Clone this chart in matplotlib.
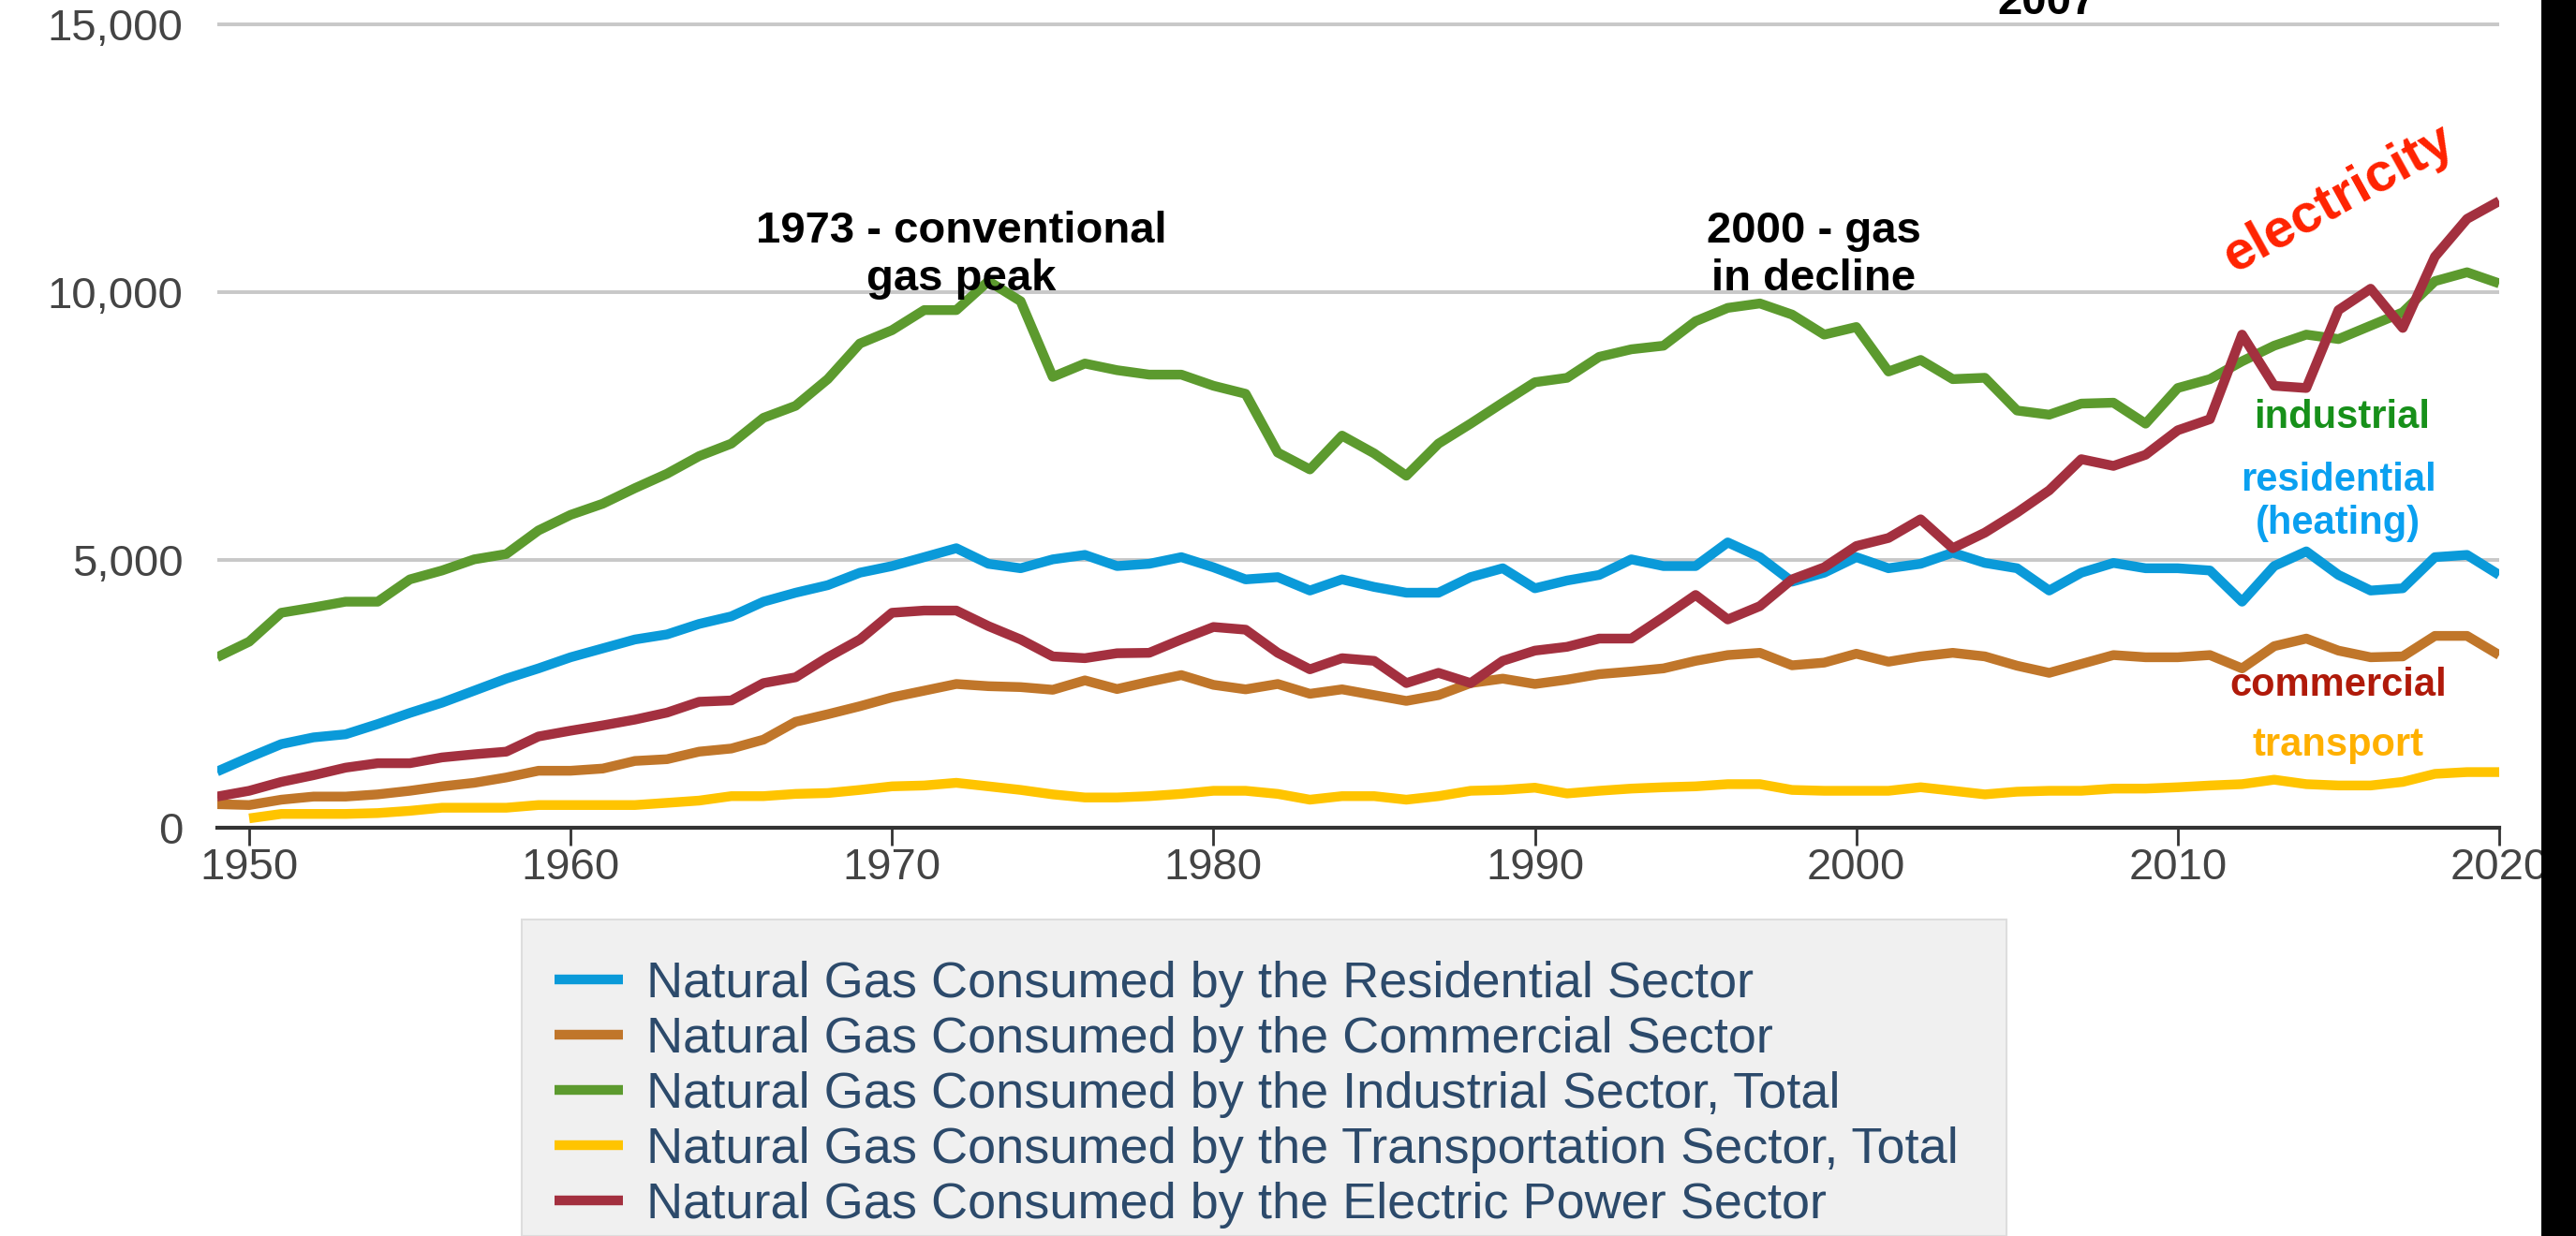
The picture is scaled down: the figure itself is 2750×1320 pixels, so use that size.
import numpy as np
import matplotlib
matplotlib.use("Agg")
import matplotlib.pyplot as plt
from matplotlib.patches import Rectangle
from matplotlib.ticker import FuncFormatter

plt.rcParams['font.family'] = ['Liberation Sans', 'DejaVu Sans']

years = np.arange(1949, 2021)

residential = [1050, 1313, 1562, 1687, 1745, 1936, 2144, 2335, 2559, 2784, 2975, 3183, 3349, 3515, 3610,
               3806, 3947, 4221, 4388, 4529, 4762, 4886, 5052, 5219, 4928, 4845, 5011, 5094, 4886, 4928,
               5052, 4862, 4637, 4679, 4429, 4637, 4496, 4388, 4388, 4679, 4845, 4471, 4616, 4720, 5011,
               4886, 4886, 5327, 5052, 4595, 4762, 5052, 4845, 4928, 5136, 4944, 4845, 4429, 4762, 4944,
               4845, 4845, 4803, 4221, 4886, 5160, 4720, 4429, 4471, 5052, 5094, 4720]

commercial = [440, 424, 524, 582, 582, 623, 690, 773, 839, 939, 1064, 1064, 1105, 1247, 1280,
              1421, 1479, 1645, 1978, 2119, 2269, 2435, 2559, 2684, 2643, 2626, 2576, 2751, 2590, 2726,
              2850, 2668, 2584, 2684, 2501, 2584, 2476, 2368, 2476, 2701, 2784, 2684, 2765, 2867, 2917,
              2975, 3116, 3224, 3266, 3033, 3083, 3249, 3100, 3199, 3266, 3199, 3025, 2892, 3058, 3224,
              3183, 3183, 3224, 2975, 3390, 3532, 3307, 3183, 3199, 3582, 3582, 3224]

industrial = [3183, 3474, 4014, 4113, 4221, 4221, 4637, 4803, 5011, 5111, 5551, 5842, 6050, 6340, 6610,
              6939, 7172, 7653, 7878, 8376, 9041, 9290, 9665, 9665, 10205, 9831, 8418, 8667, 8543, 8460,
              8460, 8252, 8102, 7005, 6690, 7321, 6989, 6573, 7172, 7545, 7936, 8318, 8400, 8792, 8933,
              9000, 9457, 9706, 9789, 9581, 9207, 9349, 8518, 8734, 8376, 8401, 7790, 7712, 7919, 7936,
              7545, 8210, 8376, 8709, 9000, 9207, 9124, 9374, 9623, 10205, 10371, 10163]

transport = [np.nan, 175, 258, 258, 258, 274, 316, 374, 374, 374, 424, 424, 424, 424, 465,
             507, 590, 590, 632, 648, 706, 773, 789, 839, 773, 706, 623, 565, 565, 590,
             632, 690, 690, 632, 524, 590, 590, 524, 590, 690, 706, 748, 640, 690, 731,
             756, 773, 814, 814, 706, 690, 690, 690, 756, 690, 623, 673, 690, 690, 731,
             731, 756, 789, 814, 897, 814, 789, 789, 856, 1006, 1039, 1039]

electric = [582, 690, 856, 981, 1122, 1205, 1205, 1313, 1371, 1421, 1704, 1812, 1911, 2019, 2150,
            2352, 2377, 2701, 2809, 3183, 3515, 4014, 4055, 4055, 3764, 3515, 3199, 3166, 3258, 3266,
            3515, 3748, 3698, 3266, 2958, 3166, 3116, 2701, 2892, 2701, 3116, 3307, 3378, 3532, 3532,
            3931, 4346, 3889, 4138, 4637, 4862, 5260, 5410, 5759, 5219, 5510, 5884, 6299, 6881, 6756,
            6964, 7421, 7628, 9207, 8252, 8210, 9665, 10064, 9332, 10662, 11368, 11700]

labels = ["Natural Gas Consumed by the Residential Sector",
          "Natural Gas Consumed by the Commercial Sector",
          "Natural Gas Consumed by the Industrial Sector, Total",
          "Natural Gas Consumed by the Transportation Sector, Total",
          "Natural Gas Consumed by the Electric Power Sector"]
colors = ['#0a9ad9', '#c0762a', '#5c9a2e', '#ffc400', '#a3303f']
series = [residential, commercial, industrial, transport, electric]

W, H = 2750, 1320
fig = plt.figure(figsize=(27.5, 13.2), dpi=100)

# axes placed by pixel position of the reference
x0, x1 = 231.7, 2668
y0 = 884
ytop = 884 - 15300 * 286 / 5000
ax = fig.add_axes([x0 / W, 1 - y0 / H, (x1 - x0) / W, (y0 - ytop) / H])

handles = []
for vals, col, lab in zip(series, colors, labels):
    h, = ax.plot(years, vals, color=col, lw=7.5, label=lab,
                 solid_joinstyle='round', solid_capstyle='butt', zorder=3)
    handles.append(h)

ax.set_xlim(1949, 2020)
ax.set_ylim(0, 15300)
ax.set_xticks(range(1950, 2021, 10))
ax.set_yticks([0, 5000, 10000, 15000])
ax.yaxis.set_major_formatter(FuncFormatter(lambda v, p: f"{int(v):,}"))
ax.grid(axis='y', color='#c8c8c8', lw=2.8, zorder=0)
ax.set_axisbelow(True)
for s in ['top', 'right', 'left']:
    ax.spines[s].set_visible(False)
ax.spines['bottom'].set_color('#333333')
ax.spines['bottom'].set_linewidth(3)
ax.tick_params(axis='x', colors='#333333', labelcolor='#444444', labelsize=34,
               length=14, width=2, direction='out', pad=1)
ax.tick_params(axis='y', length=0, labelsize=34, labelcolor='#444444', pad=26)

# annotations (y = baseline of the last line)
bold = dict(fontweight='bold', ha='center', va='baseline', clip_on=False)
ax.text(1972.15, 10035, "1973 - conventional\ngas peak", fontsize=34, color='black', **bold)
ax.text(1998.67, 10035, "2000 - gas\nin decline", fontsize=34, color='black', **bold)
ax.text(2005.93, 15192, "2007", fontsize=34, color='black', **bold)
ax.text(2015.02, 11748, "electricity", fontsize=42, color='#ff2200', fontweight='bold',
        rotation=29, rotation_mode='anchor', ha='center', va='center')
ax.text(2015.1, 7465, "industrial", fontsize=30, color='#17901a', **bold)
ax.text(2015.0, 5490, "residential\n(heating)", fontsize=30, color='#0aa0f0', **bold)
ax.text(2015.0, 2465, "commercial", fontsize=30, color='#b01a0a', **bold)
ax.text(2015.0, 1346, "transport", fontsize=30, color='#ffb000', **bold)

# legend box
fig.add_artist(Rectangle((557 / W, 0), 1585 / W, 1 - 982 / H, transform=fig.transFigure,
                         facecolor='#f0f0f0', edgecolor='#dddddd', lw=1.5, zorder=1))
leg = fig.legend(handles=handles, loc='upper left', bbox_to_anchor=(592 / W, 1 - 1026 / H),
                 frameon=False, fontsize=39, handlelength=1.35, handletextpad=0.46,
                 labelspacing=0.165, borderaxespad=0, borderpad=0)
for t in leg.get_texts():
    t.set_color('#2c4a6b')
leg.set_zorder(2)

# dark strip on the right edge of the reference
fig.add_artist(Rectangle((2713 / W, 0), 1, 1, transform=fig.transFigure,
                         facecolor='black', edgecolor='none', zorder=10))

fig.savefig("out.png", dpi=100)
